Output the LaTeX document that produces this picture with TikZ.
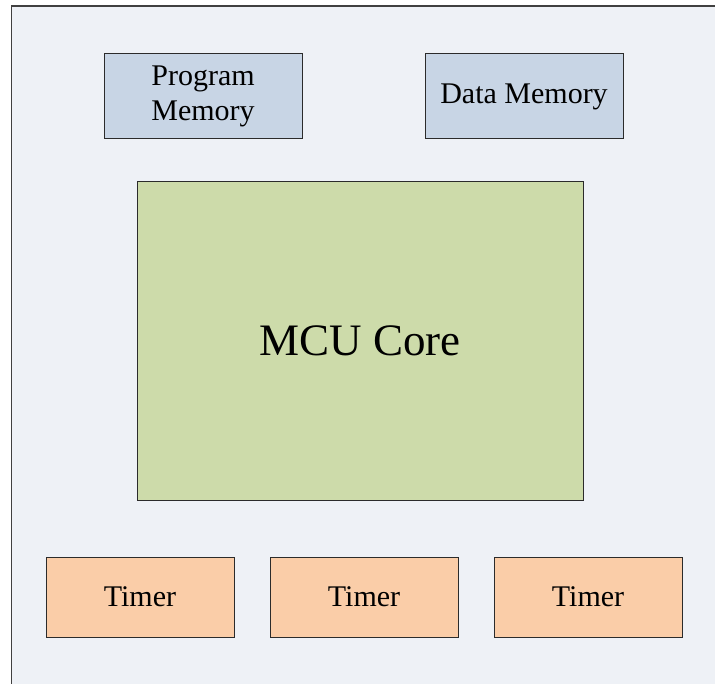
\documentclass[tikz,border=0pt]{standalone}
\usepackage{fontspec}
\setmainfont{Liberation Serif}
\usetikzlibrary{positioning}

\definecolor{pagebg}{HTML}{EEF1F6}
\definecolor{membg}{HTML}{C8D5E5}
\definecolor{corebg}{HTML}{CDDBAA}
\definecolor{timerbg}{HTML}{FACDA8}
\definecolor{edge}{HTML}{2B2B2B}

\begin{document}
\begin{tikzpicture}[x=1pt,y=-1pt,
  font=\rmfamily\fontsize{30}{35}\selectfont,
  mem/.style={rectangle,draw=edge,line width=1pt,fill=membg,align=center,
    minimum width=198pt,minimum height=85pt,inner sep=0pt},
  core/.style={rectangle,draw=edge,line width=1pt,fill=corebg,align=center,
    minimum width=446pt,minimum height=318pt,inner sep=0pt,
    font=\rmfamily\fontsize{45}{52}\selectfont},
  timer/.style={rectangle,draw=edge,line width=1pt,fill=timerbg,align=center,
    minimum width=188pt,minimum height=80pt,inner sep=0pt}]
\useasboundingbox (0,0) rectangle (715,684);
\clip (0,0) rectangle (715,684);
\draw[draw=black!75,line width=1.5pt,fill=pagebg] (11.5,6) rectangle (725,700);
\node[mem](pm) at (203,96.5){Program\\Memory};
\node[mem](dm) at (524,96.5){Data Memory};
\node[core](mcu) at (360,341){MCU Core};
\node[timer](t1) at (140,597){Timer};
\node[timer](t2) at (364,597){Timer};
\node[timer](t3) at (588,597){Timer};
\end{tikzpicture}
\end{document}
